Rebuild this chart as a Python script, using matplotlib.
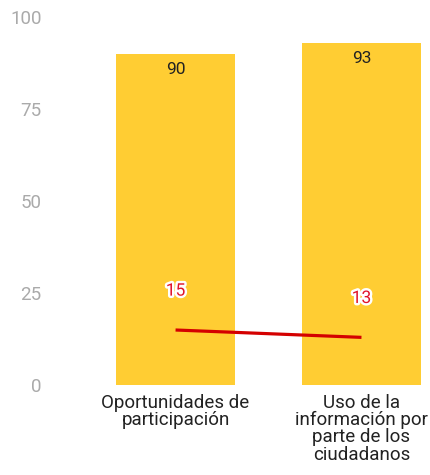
import numpy as np
import matplotlib.pyplot as plt
import matplotlib.patheffects as pe

plt.rcParams['font.family'] = ['Roboto', 'DejaVu Sans']

# datos
categorias = ['Oportunidades de\nparticipación', 'Uso de la\ninformación por\nparte de los\nciudadanos']
valores_barra = [90, 93]
valores_linea = [15, 13]
ticks_y = [0, 25, 50, 75, 100]

fig = plt.figure(figsize=(4.31, 4.75), dpi=100)
ax = fig.add_axes([0.158, 0.189, 0.842, 0.775])

x = np.arange(len(categorias))
barras = ax.bar(x, valores_barra, width=0.64, color='#FFCD33')
for xi, v in zip(x, valores_barra):
    ax.annotate(str(v), (xi, v), xytext=(0, -6), textcoords='offset points',
                ha='center', va='top', fontsize=12.5, color='#222222')

ax.plot(x, valores_linea, color='#D40000', lw=2.3, solid_capstyle='butt')
for xi, v in zip(x, valores_linea):
    ax.annotate(str(v), (xi, v), xytext=(0, 28), textcoords='offset points',
                ha='center', va='center', fontsize=12.5, color='#E0142A',
                path_effects=[pe.withStroke(linewidth=3.5, foreground='white')])

ax.set_xlim(-0.578, 1.374)
ax.set_ylim(0, 100)
ax.set_yticks(ticks_y)
ax.set_xticks(x)
ax.set_xticklabels(categorias, fontsize=13.5, color='#222222', linespacing=0.95)
ax.tick_params(axis='y', length=0, pad=19, labelsize=13.5, labelcolor='#AAAAAA')
ax.tick_params(axis='x', length=0, pad=6)
for s in ax.spines.values():
    s.set_visible(False)

fig.savefig('out.png', dpi=100)
